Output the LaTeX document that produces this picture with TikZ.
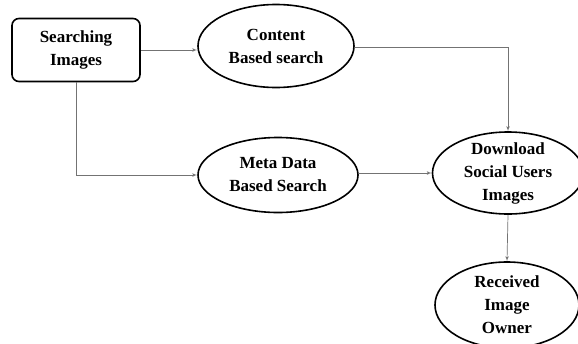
\documentclass[tikz,border=0pt]{standalone}
\usepackage{fontspec}
\setmainfont{Liberation Serif}
\usetikzlibrary{arrows,positioning,shapes.geometric}

\begin{document}
\begin{tikzpicture}
[x=1pt,y=-1pt,>=latex',
font=\fontsize{17}{23}\selectfont\bfseries,
block/.style =
{draw, line width=1.6pt, rounded corners=7pt, align=center,
 minimum width=128pt, minimum height=63pt},
oval/.style =
{draw, line width=1.6pt, shape=ellipse, align=center, inner sep=-10pt},
link/.style = {->, black!55, line width=0.7pt}]
\useasboundingbox (0,0) rectangle (578,343);

\node [block](search) at (76,50){Searching\\Images};
\node [oval, minimum width=156pt, minimum height=83pt](content) at (276,46){Content\\Based search};
\node [oval, minimum width=160pt, minimum height=75pt](meta) at (278,175){Meta Data\\Based Search};
\node [oval, minimum width=151pt, minimum height=82pt](download) at (508,173){Download\\Social Users\\Images};
\node [oval, minimum width=144pt, minimum height=86pt](owner) at (507,305){Received\\Image\\Owner};

\draw[link] (search.east|-0,50) -- (content.west|-0,50);
\draw[link] (search.south) |- (meta.west);
\draw[link] (content.east|-0,47) -| (download.north);
\draw[link] (meta.east|-0,173) -- (download.west|-0,173);
\draw[link] (download.south) -- (owner.north);

\end{tikzpicture}
\end{document}
